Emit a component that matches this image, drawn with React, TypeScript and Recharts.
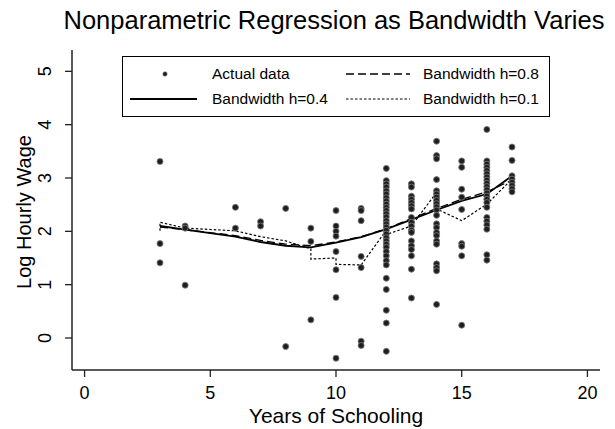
import React from 'react';
import { ComposedChart, Scatter, Line, XAxis, YAxis, Legend } from 'recharts';

const FONT = '"Liberation Sans", Arial, Helvetica, sans-serif';

// Observed (years of schooling, log hourly wage)
const wagesAt3 = [3.31, 1.77, 1.41];
const wagesAt4 = [2.1, 2.06, 0.99];
const wagesAt6 = [2.45, 2.06];
const wagesAt7 = [2.18, 2.1];
const wagesAt8 = [2.43, -0.16];
const wagesAt9 = [2.06, 1.81, 0.34];
const wagesAt10 = [2.39, 2.1, 2.0, 1.91, 1.62, 1.28, 0.76, -0.38];
const wagesAt11 = [2.43, 2.39, 2.2, 1.53, 1.32, -0.06, -0.14];
const wagesAt12 = [3.18, 2.95, 2.89, 2.83, 2.76, 2.7, 2.63, 2.57, 2.51, 2.45, 2.39, 2.33, 2.27, 2.2, 2.14, 2.08, 2.02, 1.95, 1.88, 1.82, 1.76, 1.7, 1.62, 1.54, 1.45, 1.37, 1.12, 0.91, 0.52, 0.28, -0.25];
const wagesAt13 = [2.89, 2.83, 2.66, 2.6, 2.54, 2.48, 2.42, 2.26, 2.17, 2.1, 2.02, 1.98, 1.82, 1.73, 1.66, 1.54, 1.29, 0.75];
const wagesAt14 = [3.69, 3.42, 3.36, 2.97, 2.76, 2.7, 2.64, 2.58, 2.52, 2.46, 2.4, 2.3, 2.14, 2.07, 1.98, 1.92, 1.82, 1.76, 1.39, 1.32, 1.26, 0.63];
const wagesAt15 = [3.32, 3.2, 2.79, 2.64, 2.41, 1.77, 1.72, 1.54, 0.24];
const wagesAt16 = [3.91, 3.32, 3.26, 3.2, 3.14, 3.08, 3.02, 2.96, 2.9, 2.84, 2.78, 2.72, 2.66, 2.6, 2.54, 2.45, 2.26, 2.19, 2.12, 2.04, 1.56, 1.46];
const wagesAt17 = [3.58, 3.33, 3.04, 2.98, 2.92, 2.86, 2.8, 2.74];

const schoolingYears = [3, 4, 6, 7, 8, 9, 10, 11, 12, 13, 14, 15, 16, 17];
const wageGroups = [wagesAt3, wagesAt4, wagesAt6, wagesAt7, wagesAt8, wagesAt9, wagesAt10, wagesAt11, wagesAt12, wagesAt13, wagesAt14, wagesAt15, wagesAt16, wagesAt17];

// Fitted curves
const fitYears = [3, 4, 6, 7, 8, 9, 10, 11, 12, 13, 14, 15, 16, 17];
const fitH04 = [2.1, 2.03, 1.9, 1.8, 1.73, 1.7, 1.79, 1.89, 2.04, 2.22, 2.4, 2.57, 2.7, 3.04];
const fitH08 = [2.08, 2.03, 1.92, 1.83, 1.76, 1.73, 1.8, 1.9, 2.05, 2.24, 2.43, 2.6, 2.74, 2.96];
const fitH01Years = [3, 3, 4, 6, 7, 8, 9, 9, 10, 10, 11, 12, 12, 13, 14, 14, 15, 16, 17];
const fitH01 = [2.01, 2.17, 2.06, 2.01, 1.9, 1.82, 1.67, 1.48, 1.5, 1.38, 1.37, 2.02, 1.94, 2.1, 2.73, 2.42, 2.2, 2.51, 2.98];

const xTicks = [0, 5, 10, 15, 20];
const yTicks = [0, 1, 2, 3, 4, 5];

const points = schoolingYears.flatMap((yr, i) => wageGroups[i].map((w) => ({ x: yr, y: w })));
const lineH04 = fitYears.map((x, i) => ({ x, y: fitH04[i] }));
const lineH08 = fitYears.map((x, i) => ({ x, y: fitH08[i] }));
const lineH01 = fitH01Years.map((x, i) => ({ x, y: fitH01[i] }));

const Dot = (props: any) => {
  const { cx, cy } = props;
  if (cx == null || cy == null) return null;
  return <circle cx={cx} cy={cy} r={3} fill="#1e1e1e" stroke="#777" strokeWidth={0.9} />;
};

const XTick = (props: any) => {
  const { x, payload } = props;
  return (
    <text x={x} y={399} textAnchor="middle" fontSize={18} fontFamily={FONT} fill="#000">
      {payload.value}
    </text>
  );
};

const YTick = (props: any) => {
  const { y, payload } = props;
  const bx = 51;
  return (
    <text x={bx} y={y} transform={`rotate(-90 ${bx} ${y})`} textAnchor="middle" fontSize={18} fontFamily={FONT} fill="#000">
      {payload.value}
    </text>
  );
};

const XTitle = () => (
  <text x={336} y={423} textAnchor="middle" fontSize={21} fontFamily={FONT} fill="#000">
    Years of Schooling
  </text>
);

const YTitle = () => (
  <text x={31} y={212} transform="rotate(-90 31 212)" textAnchor="middle" fontSize={20} fontFamily={FONT} fill="#000">
    Log Hourly Wage
  </text>
);

const LegendBox = () => (
  <svg width={428} height={61} style={{ display: 'block', overflow: 'visible' }}>
    <rect x={0.5} y={0.5} width={427} height={60} fill="#fff" stroke="#000" strokeWidth={1} />
    <circle cx={43} cy={18} r={2.2} fill="#1e1e1e" stroke="#777" strokeWidth={0.6} />
    <text x={90} y={23} fontSize={15.5} fontFamily={FONT} fill="#000">Actual data</text>
    <line x1={224} y1={18} x2={288} y2={18} stroke="#000" strokeWidth={1.3} strokeDasharray="8 4" />
    <text x={301} y={23} fontSize={15.5} fontFamily={FONT} fill="#000">Bandwidth h=0.8</text>
    <line x1={8} y1={43} x2={75} y2={43} stroke="#000" strokeWidth={1.8} />
    <text x={90} y={48} fontSize={15.5} fontFamily={FONT} fill="#000">Bandwidth h=0.4</text>
    <line x1={224} y1={43} x2={288} y2={43} stroke="#000" strokeWidth={1.2} strokeDasharray="2.5 2" />
    <text x={301} y={48} fontSize={15.5} fontFamily={FONT} fill="#000">Bandwidth h=0.1</text>
  </svg>
);

export default function App() {
  return (
    <div style={{ position: 'absolute', left: 0, top: 0, width: 615, height: 429, background: '#fff', fontFamily: FONT }}>
      <div style={{ position: 'absolute', left: 34, top: 5, width: 600, textAlign: 'center', fontSize: 25.5, lineHeight: '30px', color: '#000' }}>
        Nonparametric Regression as Bandwidth Varies
      </div>
      <ComposedChart width={615} height={429} margin={{ top: 50, right: 15, bottom: 0, left: 0 }}>
        <XAxis
          type="number"
          dataKey="x"
          domain={[-0.5, 20.5]}
          ticks={xTicks}
          height={59}
          tickSize={7}
          tick={<XTick />}
          axisLine={{ stroke: '#222', strokeWidth: 1.5 }}
          tickLine={{ stroke: '#222', strokeWidth: 1.3 }}
          allowDataOverflow
          label={<XTitle />}
        />
        <YAxis
          type="number"
          dataKey="y"
          domain={[-0.6, 5.4]}
          ticks={yTicks}
          width={72}
          tickSize={7}
          tick={<YTick />}
          axisLine={{ stroke: '#222', strokeWidth: 1.5 }}
          tickLine={{ stroke: '#222', strokeWidth: 1.3 }}
          allowDataOverflow
          label={<YTitle />}
        />
        <Legend
          layout="horizontal"
          verticalAlign="middle"
          align="center"
          content={() => <LegendBox />}
          wrapperStyle={{ position: 'absolute', left: 122, top: 56, width: 428, height: 61, margin: 0, padding: 0 }}
        />
        <Scatter data={points} shape={<Dot />} isAnimationActive={false} legendType="none" />
        <Line data={lineH08} dataKey="y" type="linear" stroke="#000" strokeWidth={1.3} strokeDasharray="8 4" dot={false} activeDot={false} isAnimationActive={false} legendType="none" />
        <Line data={lineH01} dataKey="y" type="linear" stroke="#000" strokeWidth={1.2} strokeDasharray="2.5 2" dot={false} activeDot={false} isAnimationActive={false} legendType="none" />
        <Line data={lineH04} dataKey="y" type="linear" stroke="#000" strokeWidth={1.8} dot={false} activeDot={false} isAnimationActive={false} legendType="none" />
      </ComposedChart>
    </div>
  );
}
